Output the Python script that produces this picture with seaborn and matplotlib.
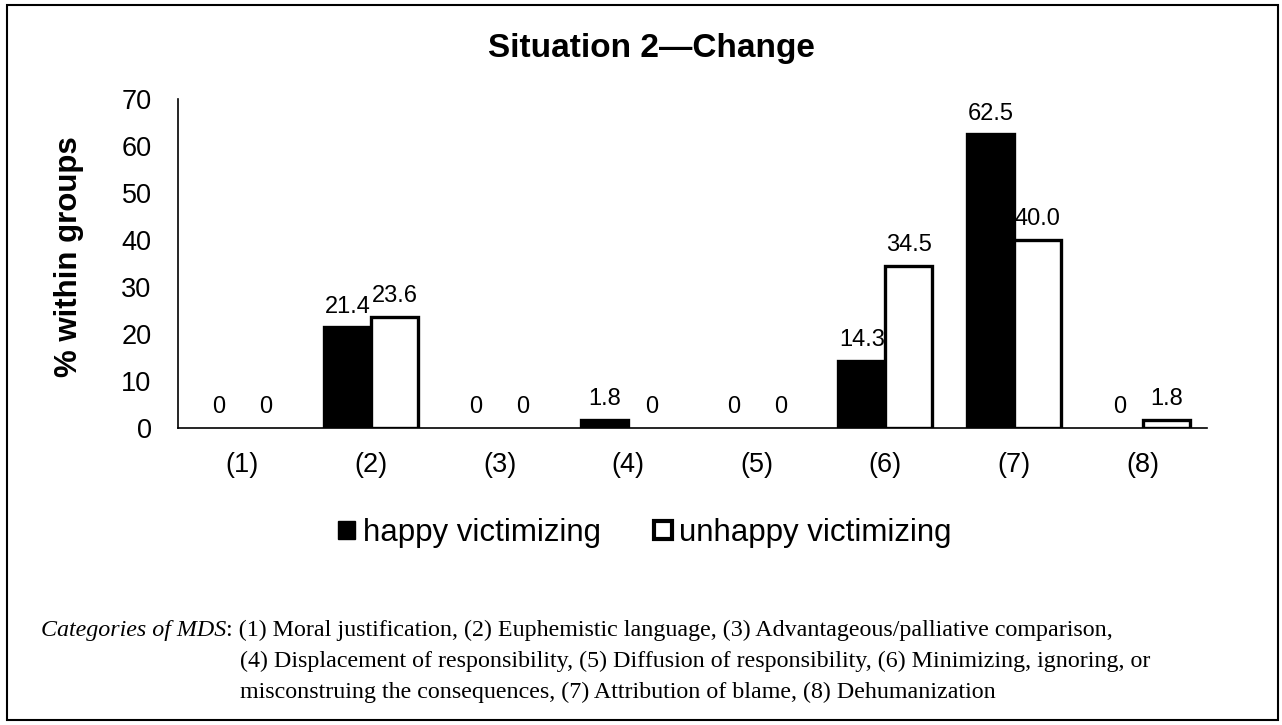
import seaborn as sns
import matplotlib.pyplot as plt
import pandas as pd
from matplotlib.patches import Patch, Rectangle

categories = ['(1)', '(2)', '(3)', '(4)', '(5)', '(6)', '(7)', '(8)']
happy = [0, 21.4, 0, 1.8, 0, 14.3, 62.5, 0]
unhappy = [0, 23.6, 0, 0, 0, 34.5, 40.0, 1.8]
groups = ['happy victimizing', 'unhappy victimizing']
yticks = [0, 10, 20, 30, 40, 50, 60, 70]

caption_lead = 'Categories of MDS'
caption_lines = [
    ': (1) Moral justification, (2) Euphemistic language, (3) Advantageous/palliative comparison,',
    '(4) Displacement of responsibility, (5) Diffusion of responsibility, (6) Minimizing, ignoring, or',
    'misconstruing the consequences, (7) Attribution of blame, (8) Dehumanization',
]

df = pd.DataFrame({
    'category': categories * 2,
    'value': happy + unhappy,
    'group': [groups[0]] * len(categories) + [groups[1]] * len(categories),
})

sns.set_theme(style='white')
plt.rcParams['font.family'] = ['Liberation Sans', 'DejaVu Sans']
plt.rcParams.update({'text.color': 'black', 'axes.labelcolor': 'black',
                     'xtick.color': 'black', 'ytick.color': 'black'})

W, H = 1282, 725
fig = plt.figure(figsize=(W / 100, H / 100), dpi=100)
ax = fig.add_axes([178 / W, 1 - 428 / H, (1207 - 178) / W, (428 - 99) / H])

sns.barplot(data=df, x='category', y='value', hue='group', hue_order=groups,
            palette={groups[0]: 'black', groups[1]: 'white'}, width=0.73,
            edgecolor='black', linewidth=2.4, saturation=1, ax=ax, legend=False)

# hide outlines of zero-height bars
for p in ax.patches:
    if p.get_height() == 0:
        p.set_linewidth(0)

for cont, vals in zip(ax.containers, [happy, unhappy]):
    labels = ['0' if v == 0 else f'{v:.1f}' for v in vals]
    ax.bar_label(cont, labels=labels, padding=7, fontsize=17, color='black')

ax.set_ylim(0, 70)
ax.set_yticks(yticks)
ax.set_xlim(-0.5, len(categories) - 0.5)
ax.set_xlabel('')
ax.set_ylabel('% within groups', fontsize=22.5, fontweight='bold', va='center')
ax.yaxis.set_label_coords(-0.106, 0.52)
ax.tick_params(axis='y', labelsize=19.5, length=0, pad=19)
ax.tick_params(axis='x', labelsize=19.5, length=0, pad=17)
for s in ['top', 'right']:
    ax.spines[s].set_visible(False)
for s in ['left', 'bottom']:
    ax.spines[s].set_color('black')
    ax.spines[s].set_linewidth(1.2)

fig.text(488 / W, 1 - 57 / H, 'Situation 2\u2014Change', ha='left', va='baseline',
         fontsize=24, fontweight='bold')

handles = [Patch(facecolor='black', edgecolor='black'),
           Patch(facecolor='white', edgecolor='black', linewidth=3)]
fig.legend(handles, groups, loc='center', bbox_to_anchor=(645 / W, 1 - 533 / H),
           ncol=2, frameon=False, fontsize=22.5, handlelength=0.55, handleheight=0.55,
           handletextpad=0.25, columnspacing=1.7)

serif = ['Liberation Serif', 'DejaVu Serif']
cap_size = 17.3
y1 = 1 - 636 / H
lead = fig.text(41 / W, y1, caption_lead, ha='left', va='baseline', fontsize=cap_size,
                family=serif, style='italic')
fig.canvas.draw()
bb = lead.get_window_extent()
fig.text(bb.x1 / W, y1, caption_lines[0], ha='left', va='baseline', fontsize=cap_size, family=serif)
fig.text(240 / W, y1 - 31 / H, caption_lines[1], ha='left', va='baseline', fontsize=cap_size, family=serif)
fig.text(240 / W, y1 - 62 / H, caption_lines[2], ha='left', va='baseline', fontsize=cap_size, family=serif)

fig.add_artist(Rectangle((7 / W, 5 / H), (1278 - 7) / W, (720 - 5) / H,
                         transform=fig.transFigure, fill=False, linewidth=1.5, edgecolor='black'))

fig.savefig('out.png', dpi=100)
